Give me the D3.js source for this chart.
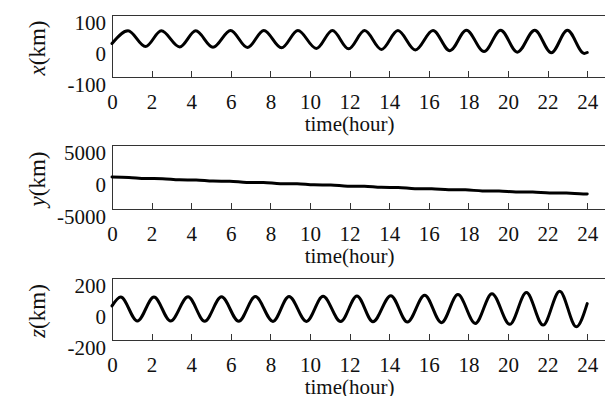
<!DOCTYPE html>
<html>
<head>
<meta charset="utf-8">
<script src="https://cdn.jsdelivr.net/npm/d3@7"></script>
<style>
  body { margin: 0; background: #fff; }
  svg text { font-family: "Liberation Serif", "Times New Roman", serif; fill: #111; }
  .axis path, .axis line { stroke: #333; shape-rendering: crispEdges; }
</style>
</head>
<body>
<div id="chart"></div>
<script>
// time axis
let timeTicks = [0, 2, 4, 6, 8, 10, 12, 14, 16, 18, 20, 22, 24];

// x(km) (peaks / troughs)
let xTime = [0, 0.81, 1.69, 2.49, 3.42, 4.23, 5.10, 5.99, 6.84, 7.67, 8.56, 9.39, 10.32, 11.13, 11.95,
  12.76, 13.61, 14.44, 15.32, 16.21, 17.06, 17.90, 18.79, 19.63, 20.47, 21.35, 22.19, 23.0, 23.85, 24.0];
let xKm = [8, 49, -2, 49, -3, 49, -4, 50, -5, 50, -6, 50, -8, 50, -9,
  50, -11, 50, -13, 50, -15, 51, -18, 51, -20, 51, -22, 51, -24, -21];

// y(km) - slow drift with small steps
let yTime = [0, 0.85, 1.7, 2.55, 3.4, 4.25, 5.1, 5.95, 6.8, 7.65, 8.5, 9.35, 10.2, 11.05, 11.9,
  12.75, 13.6, 14.45, 15.3, 16.15, 17.0, 17.85, 18.7, 19.55, 20.4, 21.25, 22.1, 22.95, 23.8, 24.0];
let yKm = [0, -60, -240, -260, -440, -460, -640, -660, -840, -860, -1040, -1060, -1230, -1250, -1430,
  -1450, -1620, -1640, -1820, -1840, -1990, -2010, -2170, -2190, -2340, -2360, -2500, -2510, -2650, -2640];

// z(km) - bottom panel, amplitude grows toward the end
let zTime = [0, 0.44, 1.28, 2.12, 2.96, 3.84, 4.68, 5.53, 6.40, 7.24, 8.13, 8.94, 9.82, 10.66, 11.55,
  12.37, 13.18, 14.08, 14.92, 15.79, 16.64, 17.47, 18.35, 19.19, 20.09, 20.93, 21.77, 22.61, 23.45, 24.0];
let zKm = [20, 78, -78, 78, -78, 79, -79, 79, -79, 80, -80, 81, -80, 82, -81,
  84, -82, 86, -84, 89, -88, 93, -93, 99, -99, 106, -104, 115, -114, 35];

let xTickVals = [-100, 0, 100];
let yTickVals = [-5000, 0, 5000];
let zTickVals = [-200, 0, 200];

let width = 605, height = 396;
let margin = {left: 112};
let plotRight = 607;
let serif = "'Liberation Serif', 'Times New Roman', serif";

let svg = d3.select("#chart").append("svg")
  .attr("width", width)
  .attr("height", height);

let x = d3.scaleLinear().domain([0, 25]).range([margin.left, plotRight]);

let panels = [
  {top: 15, bottom: 77, t: xTime, v: xKm, ticks: xTickVals, name: "x"},
  {top: 145, bottom: 209, t: yTime, v: yKm, ticks: yTickVals, name: "y"},
  {top: 278, bottom: 340, t: zTime, v: zKm, ticks: zTickVals, name: "z"}
];

panels.forEach(function(p) {
  let y = d3.scaleLinear()
    .domain([p.ticks[0], p.ticks[2]])
    .range([p.bottom, p.top]);

  // box (top edge; right edge falls off the picture)
  svg.append("rect")
    .attr("x", margin.left)
    .attr("y", p.top)
    .attr("width", plotRight - margin.left)
    .attr("height", p.bottom - p.top)
    .style("fill", "none")
    .style("stroke", "#333")
    .style("stroke-width", 1)
    .style("shape-rendering", "crispEdges");

  // x axis, ticks pointing inwards
  let gx = svg.append("g")
    .attr("class", "axis")
    .call(d3.axisBottom(x).tickValues(timeTicks).tickFormat(function(d) { return String(d); })
      .tickSize(-6).tickSizeOuter(0).tickPadding(17))
    .attr("transform", "translate(0," + p.bottom + ")");
  gx.attr("font-family", serif);
  gx.selectAll(".tick line").filter(function(d) { return d === 0; }).remove();
  gx.selectAll("text")
    .style("font-family", serif)
    .style("font-size", "21px")
    .style("fill", "#111");

  // y axis, labels only
  let gy = svg.append("g")
    .attr("class", "axis")
    .attr("transform", "translate(" + margin.left + ",0)")
    .call(d3.axisLeft(y).tickValues(p.ticks).tickFormat(function(d) { return String(d); })
      .tickSize(0).tickSizeOuter(0).tickPadding(6));
  gy.attr("font-family", serif);
  gy.selectAll("text")
    .attr("dy", "0.68em")
    .style("font-family", serif)
    .style("font-size", "21px")
    .style("fill", "#111");

  // the series
  let line = d3.line()
    .x(function(d, i) { return x(p.t[i]); })
    .y(function(d) { return y(d); })
    .curve(d3.curveMonotoneX);

  svg.append("path")
    .datum(p.v)
    .attr("d", line)
    .style("fill", "none")
    .style("stroke", "#000")
    .style("stroke-width", 3)
    .style("stroke-linejoin", "round")
    .style("stroke-linecap", "round");

  // x label
  svg.append("text")
    .attr("x", x(12))
    .attr("y", p.bottom + 54)
    .attr("text-anchor", "middle")
    .style("font-family", serif)
    .style("font-size", "21px")
    .text("time(hour)");

  // y label
  let yl = svg.append("text")
    .attr("transform", "translate(45," + ((p.top + p.bottom) / 2 + 2) + ") rotate(-90)")
    .attr("text-anchor", "middle")
    .style("font-family", serif)
    .style("font-size", "23px");
  yl.append("tspan").style("font-style", "italic").text(p.name);
  yl.append("tspan").text("(km)");
});
</script>
</body>
</html>
